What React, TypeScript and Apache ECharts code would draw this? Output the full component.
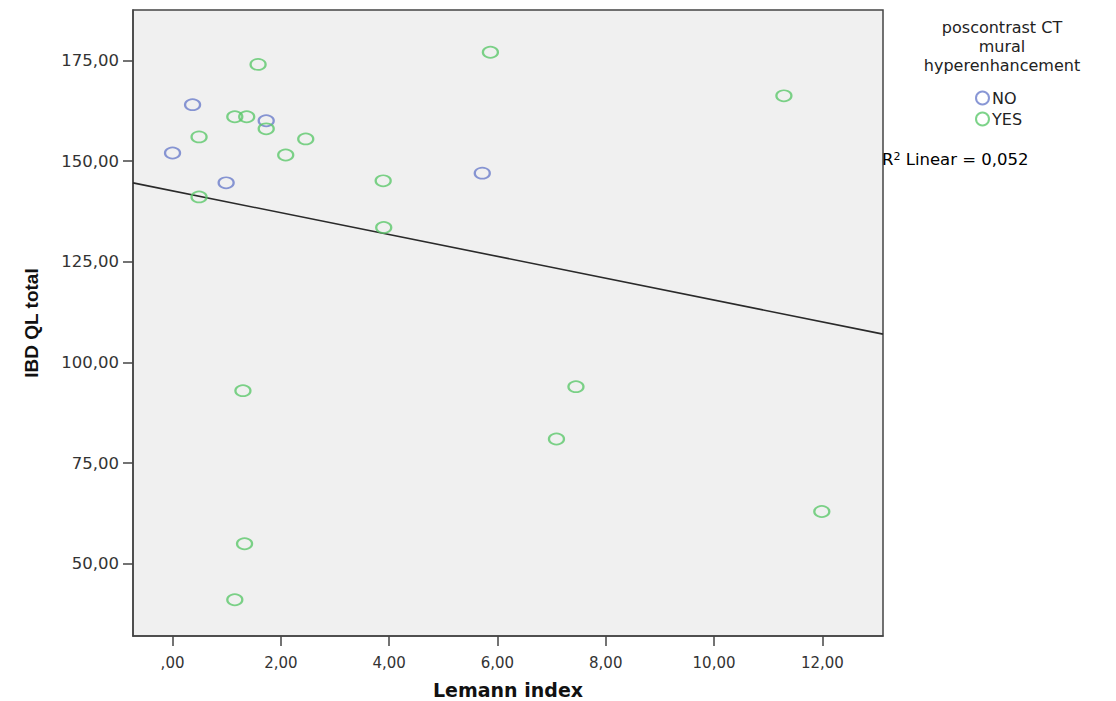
import React, { useEffect, useRef } from "react";
import * as echarts from "echarts";

const seriesNames = ["NO", "YES"];
const noX = [0.0, 0.37, 0.99, 1.73, 5.72];
const noY = [152.0, 164.0, 144.6, 160.0, 147.0];
const yesX = [1.58, 1.15, 1.37, 1.73, 0.49, 2.46, 2.09, 0.49, 3.89, 3.9, 11.29, 5.87, 7.45, 7.09, 11.99, 1.3, 1.33, 1.15];
const yesY = [174.0, 161.0, 161.0, 158.0, 156.0, 155.5, 151.5, 141.1, 145.1, 133.5, 166.2, 177.0, 94.0, 81.0, 63.0, 93.0, 55.0, 41.1];
const xTicks = [0, 2, 4, 6, 8, 10, 12];
const yTicks = [50, 75, 100, 125, 150, 175];
const fitIntercept = 142.6;
const fitSlope = -2.71;
const rSquared = "0,052";
const legendTitle = ["poscontrast CT", "mural", "hyperenhancement"];
const xName = "Lemann index";
const yName = "IBD QL total";

const X_MIN = -0.73;
const X_MAX = 13.12;
const Y_MIN = 32.1;
const Y_MAX = 187.5;

const BLUE = "#6b7dcb";
const GREEN = "#5cc86b";

const fmt = (v: number) => {
  const s = v.toFixed(2).replace(".", ",");
  return s.startsWith("0,") ? s.slice(1) : s;
};

export default function App() {
  const ref = useRef<HTMLDivElement>(null);
  useEffect(() => {
    if (!ref.current) return;
    const chart = echarts.init(ref.current, null, { renderer: "svg" });
    const zip = (xs: number[], ys: number[]) => xs.map((x, i) => [x, ys[i]]);
    const font = "DejaVu Sans";
    const axisLine = { show: true, onZero: false, lineStyle: { color: "#444", width: 1.5 } };
    const tick = { show: true, length: 10, lineStyle: { color: "#444", width: 1.5 } };
    chart.setOption({
      animation: false,
      backgroundColor: "#ffffff",
      grid: {
        left: 133,
        right: 233,
        top: 10,
        bottom: 65,
        show: true,
        backgroundColor: "#f0f0f0",
        borderColor: "#444",
        borderWidth: 1.5,
        outerBoundsMode: "none",
      },
      xAxis: {
        type: "value",
        min: X_MIN,
        max: X_MAX,
        splitLine: { show: false },
        axisLine,
        axisTick: { ...tick, customValues: xTicks },
        axisLabel: {
          customValues: xTicks,
          formatter: (v: number) => fmt(v),
          color: "#333",
          fontFamily: font,
          fontSize: 15,
          margin: 19,
        },
        name: xName,
        nameLocation: "middle",
        nameGap: 44,
        nameTextStyle: { fontFamily: font, fontWeight: "bold", fontSize: 19, color: "#111" },
      },
      yAxis: {
        type: "value",
        min: Y_MIN,
        max: Y_MAX,
        splitLine: { show: false },
        axisLine,
        axisTick: { ...tick, customValues: yTicks },
        axisLabel: {
          customValues: yTicks,
          formatter: (v: number) => fmt(v),
          color: "#333",
          fontFamily: font,
          fontSize: 16.5,
          margin: 14,
        },
        name: yName,
        nameLocation: "middle",
        nameGap: 92,
        nameTextStyle: {
          fontFamily: "Liberation Sans Narrow, Liberation Sans",
          fontWeight: "bold",
          fontSize: 19,
          color: "#111",
        },
      },
      legend: {
        data: seriesNames,
        orient: "vertical",
        left: 970,
        top: 85,
        itemWidth: 17,
        itemHeight: 13,
        itemGap: 5,
        textStyle: { fontFamily: font, fontSize: 16, color: "#222", padding: [0, 0, 0, -4] },
      },
      graphic: legendTitle
        .map((t, i) => ({
          type: "text",
          x: 1002,
          y: 19 + i * 19,
          style: {
            text: t,
            textAlign: "center",
            fontFamily: font,
            fontSize: 16,
            fill: "#222",
          },
        }))
        .concat([
          {
            type: "text",
            x: 882,
            y: 151,
            style: {
              text: "{a|R}{s|2}{a| Linear = " + rSquared + "}",
              rich: {
                a: { fontFamily: font, fontSize: 16.5, color: "#222" },
                s: { fontFamily: font, fontSize: 11, color: "#222", verticalAlign: "top", padding: [0, 0, 6, 0] },
              },
            } as any,
          },
        ]),
      series: [
        {
          name: "NO",
          type: "scatter",
          data: zip(noX, noY),
          symbol: "circle",
          symbolSize: [15, 11],
          itemStyle: { color: "rgba(0,0,0,0)", borderColor: BLUE, borderWidth: 2 },
          z: 3,
        },
        {
          name: "YES",
          type: "scatter",
          data: zip(yesX, yesY),
          symbol: "circle",
          symbolSize: [15, 11],
          itemStyle: { color: "rgba(0,0,0,0)", borderColor: GREEN, borderWidth: 2 },
          z: 3,
        },
        {
          name: "fit",
          type: "line",
          data: [
            [X_MIN, fitIntercept + fitSlope * X_MIN],
            [X_MAX, fitIntercept + fitSlope * X_MAX],
          ],
          symbol: "none",
          lineStyle: { color: "#2a2a2a", width: 1.6 },
          z: 2,
          silent: true,
        },
      ],
    });
    return () => chart.dispose();
  }, []);
  return (
    <div
      ref={ref}
      style={{ position: "absolute", left: 0, top: 0, width: 1116, height: 701 }}
    />
  );
}
